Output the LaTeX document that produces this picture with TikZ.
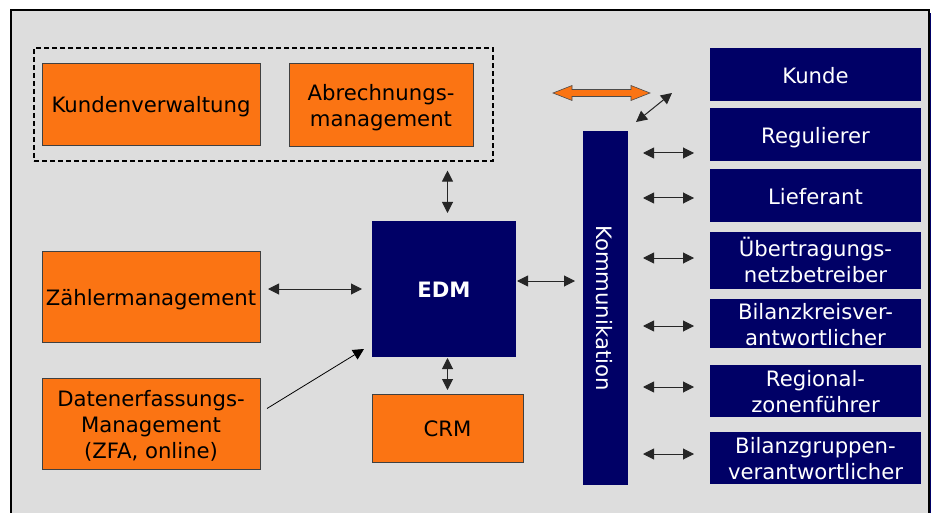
\documentclass[tikz,border=0pt]{standalone}
\usepackage{fontspec}
\setmainfont{DejaVu Sans}
\usepackage{tikz}
\usetikzlibrary{positioning}
\usetikzlibrary{calc}
\usetikzlibrary{arrows.meta}
\definecolor{edmorange}{RGB}{251,116,19}
\definecolor{edmnavy}{RGB}{0,0,102}
\definecolor{edmgray}{RGB}{221,221,221}
\tikzset{>={Triangle[length=11pt,width=11pt]}}
\tikzset{
  boxtext/.style={font=\fontsize{21.2}{26}\selectfont, text height=17.5pt, text depth=0pt},
  twoline/.style={text height=43.5pt},
  threeline/.style={text height=69.5pt},
  orangebox/.style={boxtext, draw=black!75, line width=0.9pt, fill=edmorange, text=black,
    inner sep=0pt, outer sep=0pt, align=center},
  navybox/.style={boxtext, fill=edmnavy, text=white, inner sep=0pt, outer sep=0pt, align=center},
  link/.style={<->, line width=1pt, draw=black!85},
}

\begin{document}
\begin{tikzpicture}[x=1pt, y=-1pt]
  \useasboundingbox (0,0) rectangle (931,513);
  \clip (0,0) rectangle (931,513);

  % Frame with shadow
  \fill[edmnavy] (14,13) rectangle (933,530);
  \draw[fill=edmgray, line width=1.2pt] (11,10) rectangle (929,527);

  % Left group
  \node[draw, dash pattern=on 5pt off 3pt, line width=1.1pt, minimum width=459pt,
    minimum height=113pt, inner sep=0pt] (grp) at (263.5,104.5) {};
  \node[orangebox, minimum width=218pt, minimum height=82pt] (kv) at (151,104) {Kundenverwaltung};
  \node[orangebox, twoline, minimum width=184pt, minimum height=83pt] (abr) at (381,104.5) {Abrechnungs-\\management};
  \node[orangebox, minimum width=218pt, minimum height=91pt] (zm) at (151,296.5) {Zählermanagement};
  \node[orangebox, threeline, minimum width=218pt, minimum height=91pt] (dem) at (151,423.5) {Datenerfassungs-\\Management\\(ZFA, online)};

  % Centre
  \node[navybox, minimum width=144pt, minimum height=136pt,
    font=\fontsize{21.2}{26}\selectfont\bfseries] (edm) at (444,289) {EDM};
  \node[orangebox, minimum width=151pt, minimum height=68pt] (crm) at (447.5,428) {CRM};
  \node[navybox, minimum width=354pt, minimum height=45pt, rotate=-90] (komm) at (605.5,308) {Kommunikation};

  % Partners
  \node[navybox, minimum width=211pt, minimum height=53pt] (kunde) at (815.5,74.5) {Kunde};
  \node[navybox, minimum width=211pt, minimum height=53pt] (reg) at (815.5,134.5) {Regulierer};
  \node[navybox, minimum width=211pt, minimum height=53pt] (lief) at (815.5,195.5) {Lieferant};
  \node[navybox, twoline, minimum width=211pt, minimum height=57pt] (uenb) at (815.5,260.5) {Übertragungs-\\netzbetreiber};
  \node[navybox, twoline, minimum width=211pt, minimum height=49pt] (bkv) at (815.5,323.5) {Bilanzkreisver-\\antwortlicher};
  \node[navybox, twoline, minimum width=211pt, minimum height=52pt] (rzf) at (815.5,391) {Regional-\\zonenführer};
  \node[navybox, twoline, minimum width=211pt, minimum height=52pt] (bgv) at (815.5,458) {Bilanzgruppen-\\verantwortlicher};

  % Links to EDM
  \draw[link, shorten <=9pt, shorten >=8pt] (grp.south -| crm.north) -- (edm.north -| crm.north);
  \draw[link, shorten <=8pt, shorten >=10pt] (zm.east |- edm.west) -- (edm.west);
  \draw[->, line width=0.8pt] ([shift={(7,-15)}]dem.east) -- ([shift={(-8,-8)}]edm.south west);
  \draw[link, shorten <=1pt, shorten >=4pt] (crm.north |- edm.south) -- (crm.north);
  \coordinate (ek) at ([yshift=8pt]edm.east);
  \draw[link, shorten <=1pt, shorten >=8pt] (ek) -- (ek -| komm.south);

  % Links to partners
  \draw[fill=edmorange, draw=black!70, line width=0.6pt]
    (553,93) -- (572,85.5) -- (572,89.5) -- (631,89.5) -- (631,85.5) -- (650,93)
    -- (631,100.5) -- (631,96.5) -- (572,96.5) -- (572,100.5) -- cycle;
  \draw[link] ([shift={(8,-9)}]komm.north west) -- ([shift={(-38,18.5)}]kunde.west);
  \foreach \n/\dy in {reg/18.5, lief/2.5, uenb/-2.5, bkv/2.5, rzf/-4, bgv/-4} {
    \coordinate (p) at ([yshift=-\dy pt]\n.west);
    \draw[link, shorten <=15pt, shorten >=16pt] (p -| komm.north) -- (p);
  }
\end{tikzpicture}
\end{document}
